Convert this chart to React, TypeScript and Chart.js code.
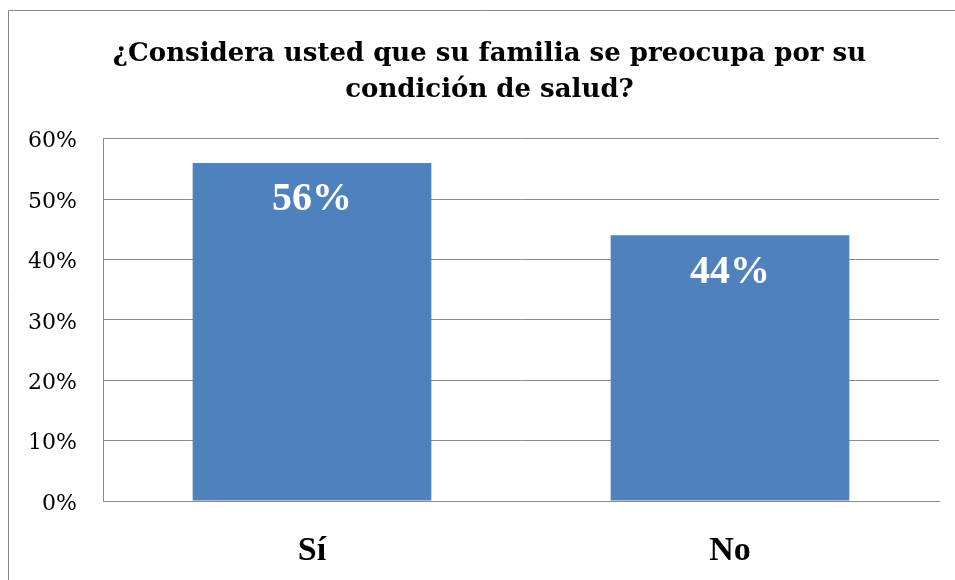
import React, { useEffect, useRef } from "react";
import { Chart, registerables } from "chart.js";

Chart.register(...registerables);

const categories: string[] = ["Sí", "No"];
const values: number[] = [56, 44];
const yTicks: number[] = [0, 10, 20, 30, 40, 50, 60];
const titleLines: string[] = [
  "¿Considera usted que su familia se preocupa por su",
  "condición de salud?",
];

const SERIF = "'Liberation Serif', 'DejaVu Serif', serif";
const WIDE_SERIF = "'DejaVu Serif', 'Liberation Serif', serif";
const GRID = "#8a8a8a";

const frame = {
  id: "frame",
  afterLayout(chart: any) {
    if (chart.titleBlock) {
      chart.titleBlock.left = 40;
      chart.titleBlock.right = 939;
    }
  },
  beforeDraw(chart: any) {
    const ctx = chart.ctx;
    ctx.save();
    ctx.fillStyle = "#ffffff";
    ctx.fillRect(0, 0, chart.width, chart.height);
    ctx.strokeStyle = "#868686";
    ctx.lineWidth = 1;
    ctx.beginPath();
    ctx.moveTo(8.5, chart.height);
    ctx.lineTo(8.5, 10.5);
    ctx.lineTo(chart.width, 10.5);
    ctx.stroke();
    ctx.restore();
  },
};

const barLabels = {
  id: "barLabels",
  afterDatasetsDraw(chart: any) {
    const ctx = chart.ctx;
    const meta = chart.getDatasetMeta(0);
    ctx.save();
    ctx.fillStyle = "#ffffff";
    ctx.font = `bold 40px ${SERIF}`;
    ctx.textAlign = "center";
    ctx.textBaseline = "middle";
    meta.data.forEach((bar: any, i: number) => {
      ctx.fillText(`${values[i]}%`, bar.x, bar.y + 37);
    });
    ctx.restore();
  },
};

export default function App() {
  const ref = useRef<HTMLCanvasElement | null>(null);
  useEffect(() => {
    document.body.style.margin = "0";
    const canvas = ref.current!;
    const chart = new Chart(canvas, {
      type: "bar",
      data: {
        labels: categories,
        datasets: [
          {
            data: values,
            backgroundColor: "#4f81bd",
            borderWidth: 0,
            barPercentage: 1,
            categoryPercentage: 0.571,
          },
        ],
      },
      options: {
        responsive: false,
        animation: false,
        layout: { padding: { left: 0, right: 16, top: 0, bottom: 0 } },
        plugins: {
          legend: { display: false },
          tooltip: { enabled: false },
          title: {
            display: true,
            text: titleLines,
            color: "#000000",
            font: { family: WIDE_SERIF, size: 26, weight: "bold", lineHeight: 1.38 },
            padding: { top: 36, bottom: 31 },
          },
        },
        scales: {
          x: {
            grid: { display: false, drawTicks: false },
            border: { display: true, color: GRID, width: 1 },
            ticks: {
              color: "#000000",
              font: { family: SERIF, size: 34, weight: "bold" },
              padding: 30,
            },
            afterFit(scale: any) {
              scale.height = 79;
            },
          },
          y: {
            min: 0,
            max: 60,
            afterBuildTicks(scale: any) {
              scale.ticks = yTicks.map((v) => ({ value: v }));
            },
            grid: { color: GRID, drawTicks: false, lineWidth: 1 },
            border: { display: true, color: GRID, width: 1 },
            ticks: {
              color: "#000000",
              font: { family: WIDE_SERIF, size: 22 },
              padding: 26,
              labelOffset: 3,
              callback: (v: any) => `${v}%`,
            },
            afterFit(scale: any) {
              scale.width = 103;
            },
          },
        },
      },
      plugins: [frame, barLabels],
    });
    return () => chart.destroy();
  }, []);
  return (
    <canvas
      ref={ref}
      width={955}
      height={580}
      style={{ display: "block", width: 955, height: 580 }}
    />
  );
}
